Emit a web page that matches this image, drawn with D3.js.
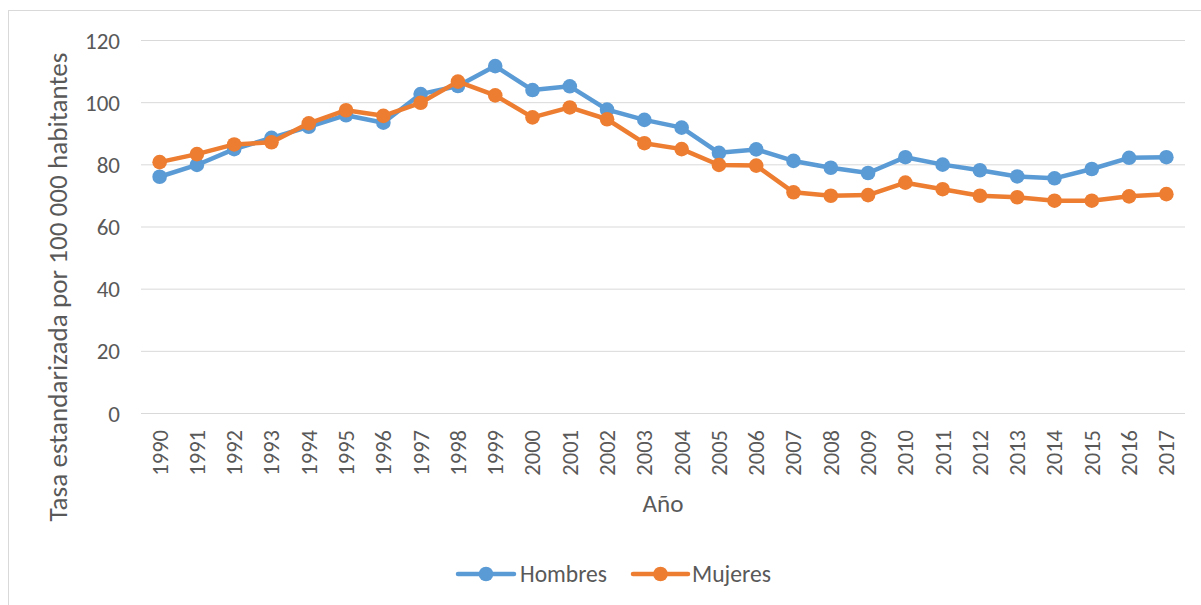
<!DOCTYPE html>
<html><head><meta charset="utf-8">
<script src="https://cdn.jsdelivr.net/npm/d3@7"></script>
<style>body{margin:0;background:#fff}svg{display:block}</style>
</head><body>
<svg id="c" width="1201" height="605"></svg>
<script>
const years = ["1990","1991","1992","1993","1994","1995","1996","1997","1998","1999","2000","2001","2002","2003","2004","2005","2006","2007","2008","2009","2010","2011","2012","2013","2014","2015","2016","2017"];
const hombres = [76.0,79.8,84.9,88.5,92.1,95.8,93.4,102.6,105.2,111.6,103.9,105.1,97.6,94.3,91.8,83.7,84.8,81.1,78.9,77.2,82.3,79.9,78.1,76.1,75.5,78.5,82.1,82.3];
const mujeres = [80.7,83.3,86.4,87.1,93.2,97.4,95.6,99.8,106.6,102.2,95.1,98.3,94.5,86.8,84.9,79.8,79.6,71.0,69.9,70.1,74.1,72.0,69.9,69.4,68.3,68.3,69.7,70.4];
const yTicks = [0,20,40,60,80,100,120];
const seriesNames = ["Hombres","Mujeres"];
const colors = ["#5B9BD5","#ED7D31"];

const svg = d3.select("#c");
const font = "Carlito, Calibri, Lato, sans-serif";
const txt = "#595959";

function fit(sel, target){
  const w = sel.node().getComputedTextLength();
  const fs = parseFloat(sel.style("font-size"));
  if (w > 0) sel.style("font-size", (fs*target/w).toFixed(2)+"px");
  return sel;
}

svg.append("rect").attr("x",8.5).attr("y",10.5).attr("width",1200).attr("height",600)
  .attr("fill","#fff").attr("stroke","#d9d9d9");

const m = {l:141, r:1185, t:40, b:413};
const x = d3.scaleBand().domain(years).range([m.l, m.r]);
const y = d3.scaleLinear().domain([0,120]).range([m.b, m.t]);

// gridlines
const ga = svg.append("g").attr("transform",`translate(${m.l},0)`)
  .call(d3.axisLeft(y).tickValues(yTicks).tickSize(-(m.r-m.l)).tickFormat(""));
ga.select(".domain").remove();
ga.selectAll(".tick line").attr("stroke","#d9d9d9").attr("stroke-width",1);

// y labels
const yl = svg.append("g").attr("transform",`translate(${m.l-21},0)`)
  .call(d3.axisLeft(y).tickValues(yTicks).tickSize(0).tickPadding(0));
yl.select(".domain").remove();
yl.selectAll("text").attr("fill",txt).style("font-family",font).style("font-size","23px").attr("dy","0.35em");

// x labels
const xl = svg.append("g").attr("transform",`translate(0,${m.b})`)
  .call(d3.axisBottom(x).tickSize(0).tickPadding(0));
xl.select(".domain").remove();
xl.selectAll("text").attr("fill",txt).style("font-family",font).style("font-size","22.5px")
  .attr("transform","rotate(-90)").attr("text-anchor","end")
  .attr("x",-17).attr("y",0).attr("dy","0.35em");

// titles
fit(svg.append("text").attr("x",663).attr("y",512).attr("text-anchor","middle")
  .attr("fill",txt).style("font-family",font).style("font-size","25px").text("Año"), 41);
fit(svg.append("text").attr("transform","translate(67,287) rotate(-90)").attr("text-anchor","middle")
  .attr("fill",txt).style("font-family",font).style("font-size","26px")
  .text("Tasa estandarizada por 100 000 habitantes"), 469);

// series
const data = [hombres, mujeres];
const line = d3.line().x((d,i)=>x(years[i])+x.bandwidth()/2).y(d=>y(d));
data.forEach((s,k)=>{
  const g = svg.append("g");
  g.append("path").datum(s).attr("d",line).attr("fill","none")
    .attr("stroke",colors[k]).attr("stroke-width",4.5).attr("stroke-linejoin","round");
  g.selectAll("circle").data(s).join("circle")
    .attr("cx",(d,i)=>x(years[i])+x.bandwidth()/2).attr("cy",d=>y(d)).attr("r",7.3)
    .attr("fill",colors[k]);
});

// legend
const lg = [{x0:458, x1:514, tx:520, w:87},{x0:633, x1:688, tx:692, w:79}];
seriesNames.forEach((n,k)=>{
  const g = svg.append("g");
  g.append("line").attr("x1",lg[k].x0).attr("x2",lg[k].x1).attr("y1",574).attr("y2",574)
    .attr("stroke",colors[k]).attr("stroke-width",4.5).attr("stroke-linecap","round");
  g.append("circle").attr("cx",(lg[k].x0+lg[k].x1)/2).attr("cy",574).attr("r",7.3).attr("fill",colors[k]);
  fit(g.append("text").attr("x",lg[k].tx).attr("y",574).attr("dy","0.35em").attr("fill",txt)
    .style("font-family",font).style("font-size","23px").text(n), lg[k].w);
});
</script>
</body></html>
